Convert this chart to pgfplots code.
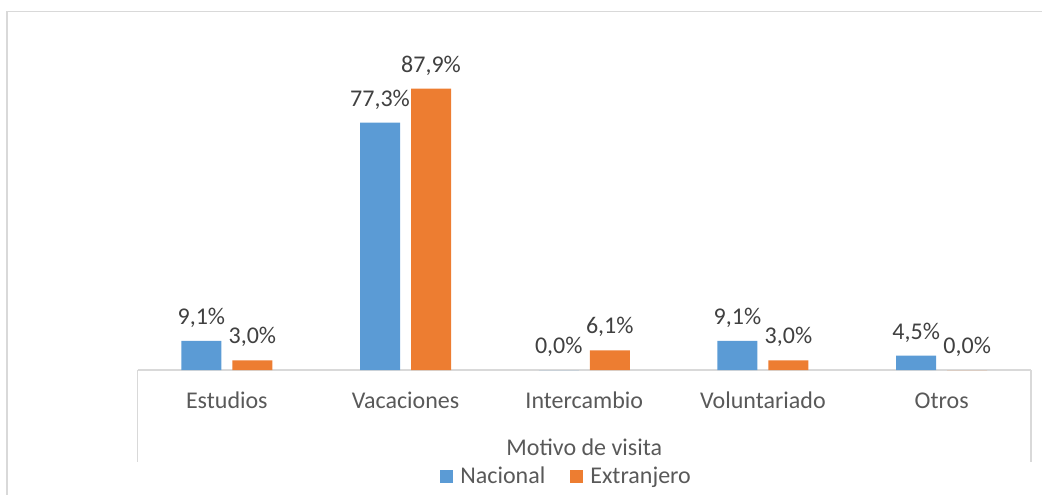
\documentclass[border=0pt]{standalone}
\usepackage{fontspec}
\setmainfont{Carlito}
\usepackage{pgfplots}
\pgfplotsset{compat=1.18}
\definecolor{nacblue}{HTML}{5B9BD5}
\definecolor{extorange}{HTML}{ED7D31}
\definecolor{gridgrey}{HTML}{D9D9D9}
\definecolor{labgrey}{HTML}{595959}
\definecolor{datgrey}{HTML}{404040}

\begin{document}
\begin{tikzpicture}
% outer chart frame (left and top edges only are inside the picture)
\draw[gridgrey, line width=0.65pt] (3.5pt,-10pt) -- (3.5pt,241.15pt) -- (530pt,241.15pt);
\begin{axis}[
  at={(68.75pt,62pt)}, anchor=south west,
  scale only axis, width=446.75pt, height=160pt,
  xmin=-0.5, xmax=4.5, ymin=0, ymax=100,
  ybar=5.5pt, bar width=20pt,
  hide y axis,
  axis x line=bottom,
  x axis line style={-, draw=gridgrey, line width=0.65pt},
  xtick={0,1,2,3,4},
  xticklabels={Estudios, Vacaciones, Intercambio, Voluntariado, Otros},
  major tick length=0pt, xtick style={draw=none},
  xticklabel style={font=\fontsize{12}{14}\selectfont, text=labgrey, anchor=base, yshift=-19.15pt},
  xlabel={Motivo de visita},
  xlabel style={at={(axis description cs:0.5,-0.2656)}, anchor=base, font=\fontsize{12}{14}\selectfont, text=labgrey},
  clip=false,
  nodes near coords={\pgfmathprintnumber[fixed, fixed zerofill, precision=1, use comma, assume math mode=true]{\pgfplotspointmeta}\%},
  every node near coord/.append style={font=\fontsize{12}{14}\selectfont, text=datgrey, anchor=base, yshift=8.3pt},
  legend columns=2,
  legend style={at={(axis description cs:0.3106,-0.334)}, anchor=west, draw=none, fill=none,
    inner sep=0pt, font=\fontsize{12}{14}\selectfont, text=labgrey,
    nodes={inner sep=0pt}},
  legend image code/.code={%
    \path (-12.5pt,0pt) (10pt,0pt);
    \fill[#1] (0pt,-3.25pt) rectangle (6.5pt,3.25pt);},
]
\addplot[fill=nacblue, draw=none] coordinates {(0,9.1) (1,77.3) (2,0.0) (3,9.1) (4,4.5)};
\addlegendentry{Nacional}
\addplot[fill=extorange, draw=none] coordinates {(0,3.0) (1,87.9) (2,6.1) (3,3.0) (4,0.0)};
\addlegendentry{Extranjero}
\draw[gridgrey, line width=0.65pt] (axis description cs:0,0) -- (axis description cs:0,-0.2875);
\draw[gridgrey, line width=0.65pt] (axis description cs:1,0) -- (axis description cs:1,-0.2875);
\end{axis}
\pgfresetboundingbox
\path[use as bounding box] (0pt,0pt) rectangle (521pt,247pt);
\end{tikzpicture}
\end{document}
